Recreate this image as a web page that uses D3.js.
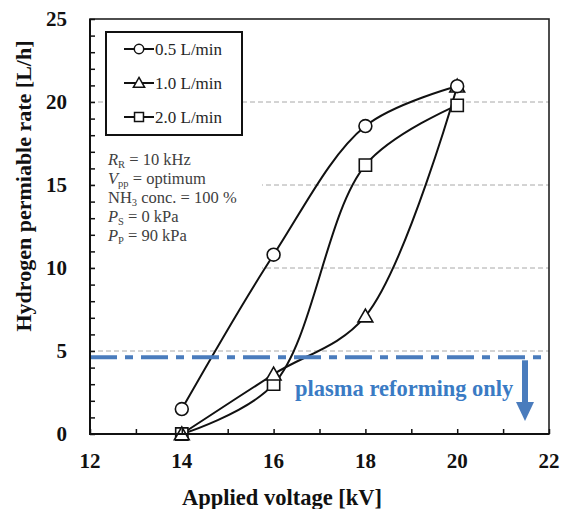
<!DOCTYPE html>
<html>
<head>
<meta charset="utf-8">
<script src="https://cdn.jsdelivr.net/npm/d3@7"></script>
<style>
  html, body { margin: 0; padding: 0; background: #fff; }
  svg { display: block; }
</style>
</head>
<body>
<svg id="chart" width="567" height="509"></svg>
<script>
// ---- data ----
const voltages = [14, 16, 18, 20];
const seriesNames = ["0.5 L/min", "1.0 L/min", "2.0 L/min"];
const seriesShapes = ["circle", "triangle", "square"];
const rate05 = [1.5, 10.8, 18.55, 20.95];
const rate10 = [0.0, 3.6, 7.1, 20.95];
const rate20 = [0.0, 3.0, 16.2, 19.8];
const xTicks = [12, 14, 16, 18, 20, 22];
const yTicks = [0, 5, 10, 15, 20, 25];
const gridValues = [5, 10, 15, 20];
const thresholdRate = 4.62;
const thresholdLabel = "plasma reforming only";
const xTitle = "Applied voltage [kV]";
const yTitle = "Hydrogen permiable rate [L/h]";

const seriesValues = [rate05, rate10, rate20];

// ---- layout ----
const svg = d3.select("#chart");
const L = 90, R = 549, T = 19, B = 434;
const x = d3.scaleLinear().domain([12, 22]).range([L, R]);
const y = d3.scaleLinear().domain([0, 25]).range([B, T]);
const serif = "'Liberation Serif', 'Times New Roman', serif";

// gridlines
svg.append("g").selectAll("line").data(gridValues).join("line")
  .attr("x1", L).attr("x2", R)
  .attr("y1", d => y(d)).attr("y2", d => y(d))
  .attr("stroke", "#a8a8a8").attr("stroke-width", 1)
  .attr("stroke-dasharray", "5,3");

// white background of annotation text
svg.append("rect").attr("x", 96).attr("y", 142).attr("width", 166).attr("height", 130)
  .attr("fill", "#fff");

// legend box
svg.append("rect").attr("x", 106).attr("y", 32).attr("width", 136).attr("height", 103)
  .attr("fill", "#fff").attr("stroke", "#111").attr("stroke-width", 2);

// data lines
const line = d3.line().x(d => x(d[0])).y(d => y(d[1])).curve(d3.curveCatmullRom.alpha(0.5));
seriesValues.forEach(vals => {
  svg.append("path")
    .datum(voltages.map((v, i) => [v, vals[i]]))
    .attr("d", line)
    .attr("fill", "none").attr("stroke", "#111").attr("stroke-width", 2);
});

// threshold line
svg.append("line")
  .attr("x1", L).attr("x2", R)
  .attr("y1", y(thresholdRate)).attr("y2", y(thresholdRate))
  .attr("stroke", "#4a7cbd").attr("stroke-width", 4)
  .attr("stroke-dasharray", "27,8,8,8");

// markers
function symbolFor(shape, size) {
  const t = shape === "circle" ? d3.symbolCircle : shape === "triangle" ? d3.symbolTriangle : d3.symbolSquare;
  return d3.symbol().type(t).size(size)();
}
const markerSize = { circle: 130, triangle: 95, square: 150 };
const drawOrder = [2, 1, 0];
drawOrder.forEach(si => {
  const shape = seriesShapes[si];
  svg.append("g").selectAll("path").data(voltages.map((v, i) => [v, seriesValues[si][i]])).join("path")
    .attr("d", symbolFor(shape, markerSize[shape]))
    .attr("transform", d => `translate(${x(d[0])},${y(d[1]) + (shape === "triangle" ? 1.5 : 0)})`)
    .attr("fill", "#fff").attr("stroke", "#111").attr("stroke-width", 1.6);
});

// frame
svg.append("rect").attr("x", L).attr("y", T).attr("width", R - L).attr("height", B - T)
  .attr("fill", "none").attr("stroke", "#222").attr("stroke-width", 1.6);
svg.append("line").attr("x1", L).attr("x2", L).attr("y1", T).attr("y2", B + 1)
  .attr("stroke", "#111").attr("stroke-width", 2);
svg.append("line").attr("x1", L - 1).attr("x2", R).attr("y1", B).attr("y2", B)
  .attr("stroke", "#111").attr("stroke-width", 2);

// axes (inside ticks)
const yAxis = d3.axisLeft(y).tickValues(d3.range(0, 26, 1)).tickSize(-5).tickFormat("");
const gy = svg.append("g").attr("transform", `translate(${L},0)`).call(yAxis);
gy.select(".domain").remove();
gy.selectAll("line").attr("stroke", "#111").attr("stroke-width", 1.5);

const xAxis = d3.axisBottom(x).tickValues(d3.range(12, 23, 1)).tickSize(-5).tickFormat("");
const gx = svg.append("g").attr("transform", `translate(0,${B})`).call(xAxis);
gx.select(".domain").remove();
gx.selectAll("line").attr("stroke", "#111").attr("stroke-width", 1.5);

// tick labels
svg.append("g").selectAll("text").data(yTicks).join("text")
  .attr("x", 67).attr("y", d => y(d) + 7)
  .attr("text-anchor", "end")
  .attr("font-family", serif).attr("font-weight", "bold").attr("font-size", 21)
  .attr("fill", "#111").text(d => d);
svg.append("g").selectAll("text").data(xTicks).join("text")
  .attr("x", d => x(d)).attr("y", 468)
  .attr("text-anchor", "middle")
  .attr("font-family", serif).attr("font-weight", "bold").attr("font-size", 21)
  .attr("fill", "#111").text(d => d);

// axis titles
svg.append("text").attr("x", 282).attr("y", 505).attr("text-anchor", "middle")
  .attr("font-family", serif).attr("font-weight", "bold").attr("font-size", 22.5)
  .attr("fill", "#111").text(xTitle);
svg.append("text").attr("transform", "translate(31,186) rotate(-90)").attr("text-anchor", "middle")
  .attr("font-family", serif).attr("font-weight", "bold").attr("font-size", 22)
  .attr("fill", "#111").text(yTitle);

// legend
const legendRows = [49, 83, 117];
seriesNames.forEach((name, i) => {
  const ly = legendRows[i];
  svg.append("line").attr("x1", 124).attr("x2", 154).attr("y1", ly).attr("y2", ly)
    .attr("stroke", "#111").attr("stroke-width", 2);
  const shape = seriesShapes[i];
  svg.append("path").attr("d", symbolFor(shape, shape === "circle" ? 70 : shape === "triangle" ? 55 : 80))
    .attr("transform", `translate(139,${ly + (shape === "triangle" ? 1 : 0)})`)
    .attr("fill", "#fff").attr("stroke", "#111").attr("stroke-width", 1.5);
  svg.append("text").attr("x", 155).attr("y", ly + 6)
    .attr("font-family", serif).attr("font-size", 17).attr("fill", "#262626").text(name);
});

// annotation
const ann = svg.append("g").attr("font-family", serif).attr("font-size", 16.5).attr("fill", "#404040");
function annLine(yy, parts) {
  const t = ann.append("text").attr("x", 108).attr("y", yy);
  parts.forEach(p => {
    const ts = t.append("tspan").text(p.t);
    if (p.i) ts.attr("font-style", "italic");
    if (p.sub) ts.attr("font-size", 10.5).attr("dy", 3);
    if (p.up) ts.attr("dy", -3);
  });
}
annLine(165, [{t: "R", i: true}, {t: "R", sub: true}, {t: " = 10 kHz", up: true}]);
annLine(184, [{t: "V", i: true}, {t: "pp", sub: true}, {t: " = optimum", up: true}]);
annLine(203, [{t: "NH"}, {t: "3", sub: true}, {t: " conc. = 100 %", up: true}]);
annLine(222, [{t: "P", i: true}, {t: "S", sub: true}, {t: " = 0 kPa", up: true}]);
annLine(241, [{t: "P", i: true}, {t: "P", sub: true}, {t: " = 90 kPa", up: true}]);

// plasma text and arrow
svg.append("text").attr("x", 295).attr("y", 396)
  .attr("font-family", serif).attr("font-weight", "bold").attr("font-size", 22.5)
  .attr("fill", "#3a7bc4").text(thresholdLabel);
const ax = 525;
svg.append("rect").attr("x", ax - 3).attr("y", y(thresholdRate) + 3).attr("width", 6).attr("height", 44)
  .attr("fill", "#4a7cbd");
svg.append("path")
  .attr("d", `M${ax - 9},402 L${ax + 9},402 L${ax},421 Z`)
  .attr("fill", "#4a7cbd");
</script>
</body>
</html>
